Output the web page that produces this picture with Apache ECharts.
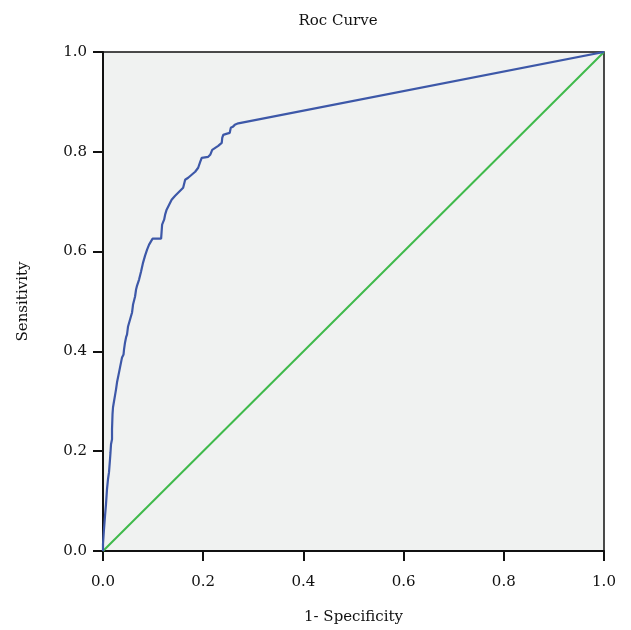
<!DOCTYPE html>
<html>
<head>
<meta charset="utf-8">
<script src="https://cdn.jsdelivr.net/npm/echarts@6/dist/echarts.min.js"></script>
<style>
  html, body { margin: 0; padding: 0; background: #fff; }
  #main { width: 631px; height: 630px; }
</style>
</head>
<body>
<div id="main"></div>
<script>
// 1 - specificity (x) and sensitivity (y)
var fpr = [0, 0, 0.002, 0.004, 0.006, 0.008, 0.010, 0.012, 0.014, 0.015, 0.016, 0.018, 0.018, 0.019,
    0.020, 0.022, 0.024, 0.026, 0.028, 0.032, 0.034, 0.036, 0.038, 0.041, 0.042, 0.044, 0.046, 0.048,
    0.050, 0.054, 0.058, 0.060, 0.064, 0.066, 0.068, 0.072, 0.076, 0.080, 0.084, 0.088, 0.092, 0.094,
    0.099, 0.116, 0.117, 0.118, 0.122, 0.124, 0.127, 0.132, 0.137, 0.144, 0.150, 0.160, 0.164, 0.170,
    0.177, 0.184, 0.190, 0.194, 0.197, 0.210, 0.214, 0.218, 0.220, 0.230, 0.237, 0.238, 0.240, 0.246,
    0.253, 0.255, 0.259, 0.263, 0.270, 1];
var tpr = [0, 0.014, 0.044, 0.070, 0.094, 0.124, 0.144, 0.158, 0.184, 0.198, 0.214, 0.224, 0.244, 0.274,
    0.288, 0.300, 0.312, 0.324, 0.338, 0.358, 0.368, 0.378, 0.388, 0.394, 0.404, 0.418, 0.428, 0.434,
    0.450, 0.464, 0.478, 0.494, 0.510, 0.524, 0.532, 0.544, 0.560, 0.578, 0.592, 0.604, 0.614, 0.618,
    0.626, 0.626, 0.640, 0.654, 0.664, 0.674, 0.684, 0.694, 0.704, 0.712, 0.718, 0.728, 0.744, 0.748,
    0.754, 0.760, 0.768, 0.780, 0.788, 0.790, 0.794, 0.804, 0.808, 0.812, 0.818, 0.828, 0.834, 0.836,
    0.838, 0.848, 0.850, 0.854, 0.857, 1];
// reference line
var refX = [0, 1];
var refY = [0, 1];

var rocData = [];
for (var i = 0; i < fpr.length; i++) {
    rocData.push([fpr[i], tpr[i]]);
}
var refData = [];
for (var j = 0; j < refX.length; j++) {
    refData.push([refX[j], refY[j]]);
}

var font = 'DejaVu Serif';
var myChart = echarts.init(document.getElementById('main'));
var option = {
    backgroundColor: '#ffffff',
    animation: false,
    title: {
        text: 'Roc Curve',
        left: 333,
        top: 9,
        textAlign: 'center',
        textStyle: { fontFamily: font, fontSize: 15, fontWeight: 'normal', color: '#111' }
    },
    grid: {
        left: 103,
        right: 27,
        top: 52,
        bottom: 78,
        show: true,
        backgroundColor: '#f0f2f1',
        borderColor: '#111',
        borderWidth: 1.5
    },
    xAxis: {
        type: 'value',
        min: 0,
        max: 1,
        interval: 0.2,
        name: '1- Specificity',
        nameLocation: 'middle',
        nameGap: 59,
        nameTextStyle: { fontFamily: font, fontSize: 15, color: '#111' },
        axisLine: { lineStyle: { color: '#111', width: 2 } },
        axisTick: { show: true, length: 10, lineStyle: { color: '#111', width: 2 } },
        axisLabel: {
            margin: 24,
            fontFamily: font, fontSize: 15, color: '#111',
            formatter: function (v) { return v.toFixed(1); }
        },
        splitLine: { show: false }
    },
    yAxis: {
        type: 'value',
        min: 0,
        max: 1,
        interval: 0.2,
        name: 'Sensitivity',
        nameLocation: 'middle',
        nameGap: 72,
        nameTextStyle: { fontFamily: font, fontSize: 15, color: '#111' },
        axisLine: { lineStyle: { color: '#111', width: 2 } },
        axisTick: { show: true, length: 10, lineStyle: { color: '#111', width: 2 } },
        axisLabel: {
            margin: 16,
            fontFamily: font, fontSize: 15, color: '#111',
            formatter: function (v) { return v.toFixed(1); }
        },
        splitLine: { show: false }
    },
    series: [
        {
            name: 'Reference',
            type: 'line',
            data: refData,
            symbol: 'none',
            lineStyle: { color: '#3fba4b', width: 2 }
        },
        {
            name: 'ROC',
            type: 'line',
            data: rocData,
            symbol: 'none',
            lineStyle: { color: '#3d58a8', width: 2.2 }
        }
    ]
};
myChart.setOption(option);
</script>
</body>
</html>
